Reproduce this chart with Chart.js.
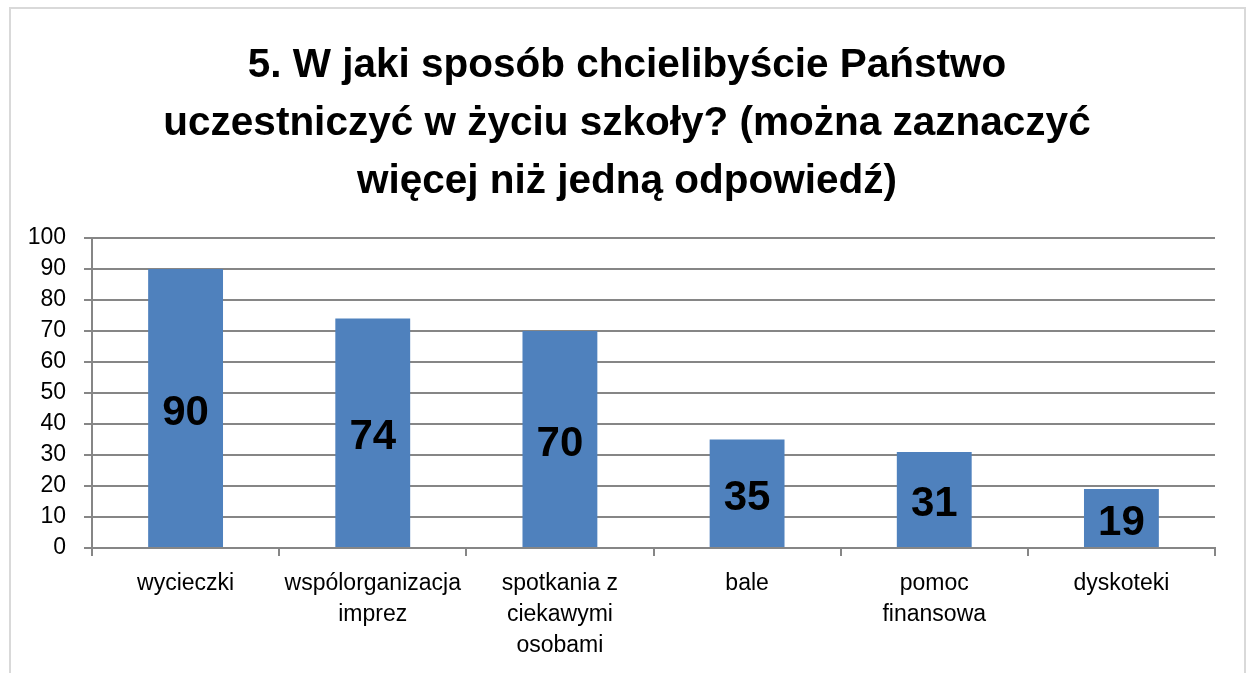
<!DOCTYPE html>
<html>
<head>
<meta charset="utf-8">
<script src="https://cdn.jsdelivr.net/npm/chart.js@4"></script>
<style>
  html, body { margin: 0; padding: 0; background: #fff; overflow: hidden; }
  #wrap { position: relative; width: 1248px; height: 673px; }
  #frame { position: absolute; left: 9px; top: 7px; width: 1233px; height: 700px;
           border: 2px solid #d9d9d9; pointer-events: none; }
</style>
</head>
<body>
<div id="wrap">
  <canvas id="chart" width="1248" height="673"></canvas>
  <div id="frame"></div>
</div>
<script>
// Survey question 5 – answers
const categories = [
  'wycieczki',
  ['wspólorganizacja', 'imprez'],
  ['spotkania z', 'ciekawymi', 'osobami'],
  'bale',
  ['pomoc', 'finansowa'],
  'dyskoteki'
];
const answers = [90, 74, 70, 35, 31, 19];
const titleLines = [
  '5. W jaki sposób chcielibyście Państwo',
  'uczestniczyć w życiu szkoły? (można zaznaczyć',
  'więcej niż jedną odpowiedź)'
];

const FONT = "'Liberation Sans', Arial, sans-serif";

// title centred on the whole frame (built-in title centres on the chart box only)
const frameTitle = {
  id: 'frameTitle',
  afterDraw(chart) {
    const c = chart.ctx;
    c.save();
    c.font = 'bold 40.5px ' + FONT;
    c.fillStyle = '#000';
    c.textAlign = 'center';
    c.textBaseline = 'middle';
    titleLines.forEach(function(line, i) {
      c.fillText(line, 627, 66 + i * 58);
    });
    c.restore();
  }
};

// value written in the middle of each bar
const barValues = {
  id: 'barValues',
  afterDatasetsDraw(chart) {
    const c = chart.ctx;
    const meta = chart.getDatasetMeta(0);
    c.save();
    c.font = 'bold 42px ' + FONT;
    c.fillStyle = '#000';
    c.textAlign = 'center';
    c.textBaseline = 'middle';
    meta.data.forEach(function(bar, i) {
      c.fillText(answers[i], bar.x, (bar.y + bar.base) / 2 + 5);
    });
    c.restore();
  }
};

const ctx = document.getElementById('chart').getContext('2d');
const chart = new Chart(ctx, {
  type: 'bar',
  data: {
    labels: categories,
    datasets: [{
      data: answers,
      backgroundColor: '#4F81BD',
      categoryPercentage: 1,
      barPercentage: 0.4
    }]
  },
  options: {
    responsive: false,
    animation: false,
    layout: { padding: { left: 0, right: 33, top: 238, bottom: 0 } },
    plugins: {
      legend: { display: false },
      tooltip: { enabled: false },
      title: { display: false }
    },
    scales: {
      x: {
        grid: { drawOnChartArea: false, drawTicks: true, tickLength: 8, color: '#868686', lineWidth: 2 },
        border: { color: '#868686', width: 2 },
        ticks: { color: '#000', font: { family: FONT, size: 23, lineHeight: 1.35 }, padding: 12, maxRotation: 0, autoSkip: false },
        afterFit(scale) { scale.height = 125; }
      },
      y: {
        min: 0,
        max: 100,
        ticks: { stepSize: 10, color: '#000', font: { family: FONT, size: 23 }, padding: 18 },
        grid: { color: '#868686', lineWidth: 2, tickLength: 8 },
        border: { color: '#868686', width: 2 },
        afterFit(scale) { scale.width = 92; }
      }
    }
  },
  plugins: [barValues, frameTitle]
});
</script>
</body>
</html>
